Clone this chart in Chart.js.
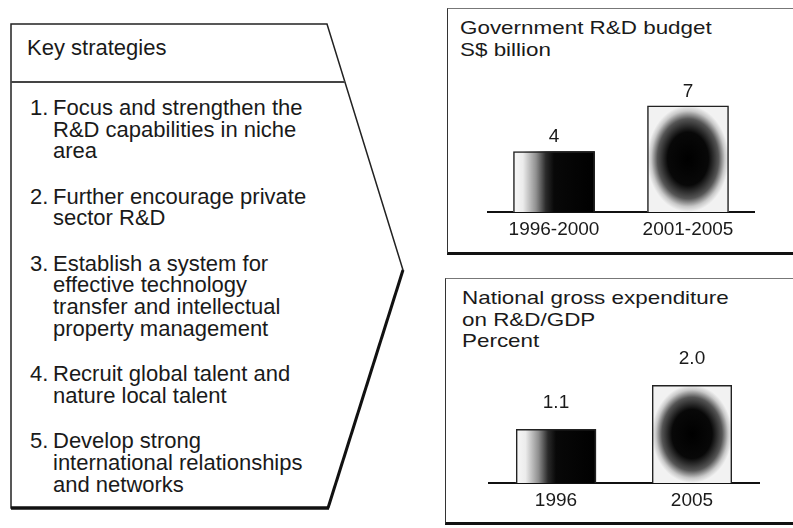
<!DOCTYPE html>
<html>
<head>
<meta charset="utf-8">
<title>Key strategies and R&amp;D spending</title>
<script src="https://cdn.jsdelivr.net/npm/chart.js@4/dist/chart.umd.min.js"></script>
<style>
    html, body {
        margin: 0;
        padding: 0;
        background: #ffffff;
    }
    body {
        position: relative;
        width: 793px;
        height: 528px;
        overflow: hidden;
        font-family: "Liberation Sans", Arial, sans-serif;
        color: #1a1a1a;
    }
    #frame {
        position: absolute;
        left: 0;
        top: 0;
    }
    .strategy-head {
        position: absolute;
        left: 27px;
        top: 37px;
        font-size: 22px;
        line-height: 21.7px;
        white-space: nowrap;
    }
    #strategyList {
        position: absolute;
        left: 30px;
        top: 97px;
        font-size: 22px;
        line-height: 21.7px;
        white-space: nowrap;
    }
    .item {
        display: flex;
        margin-bottom: 23.6px;
    }
    .item .num {
        width: 23px;
    }
    .panel {
        position: absolute;
        width: 380px;
        height: 247px;
        border-top: 1px solid #777;
        border-left: 1.5px solid #333;
        border-bottom: 3px solid #111;
        box-sizing: border-box;
    }
    .panel-title {
        position: absolute;
        font-size: 19px;
        line-height: 21.7px;
        white-space: nowrap;
        transform: scaleX(1.18);
        transform-origin: left top;
    }
    canvas {
        position: absolute;
    }
</style>
</head>
<body>

<svg id="frame" width="793" height="528">
    <polygon points="11,24 327,24 403,270 328,508 11,508" fill="none" stroke="#222" stroke-width="1.5"/>
    <line x1="403" y1="270" x2="328" y2="508" stroke="#111" stroke-width="3"/>
    <line x1="11" y1="508" x2="329" y2="508" stroke="#111" stroke-width="3.5"/>
    <line x1="11" y1="82" x2="345" y2="82" stroke="#444" stroke-width="2"/>
</svg>

<div class="strategy-head">Key strategies</div>
<div id="strategyList"></div>

<div class="panel" style="left:447px; top:8px;"></div>
<div class="panel-title" id="budgetTitle" style="left:460px; top:17px;"></div>
<canvas id="budgetChart" width="268" height="195" style="left:487px; top:60px; width:268px; height:195px;"></canvas>

<div class="panel" style="left:445px; top:278px;"></div>
<div class="panel-title" id="gerdTitle" style="left:462px; top:287px;"></div>
<canvas id="gerdChart" width="272" height="189" style="left:488px; top:336px; width:272px; height:189px;"></canvas>

<script>
// ======================== Data ========================

const strategies = [
    ['Focus and strengthen the', 'R&D capabilities in niche', 'area'],
    ['Further encourage private', 'sector R&D'],
    ['Establish a system for', 'effective technology', 'transfer and intellectual', 'property management'],
    ['Recruit global talent and', 'nature local talent'],
    ['Develop strong', 'international relationships', 'and networks']
];

const budgetTitle = ['Government R&D budget', 'S$ billion'];
const budgetYears = ['1996-2000', '2001-2005'];
const budgetValues = [4, 7];

const gerdTitle = ['National gross expenditure', 'on R&D/GDP', 'Percent'];
const gerdYears = ['1996', '2005'];
const gerdValues = [1.1, 2.0];

// ======================== Text blocks ========================

function fillLines(el, lines) {
    lines.forEach((line, i) => {
        if (i > 0) el.appendChild(document.createElement('br'));
        el.appendChild(document.createTextNode(line));
    });
}

function buildStrategyList() {
    const list = document.getElementById('strategyList');
    strategies.forEach((lines, i) => {
        const item = document.createElement('div');
        item.className = 'item';
        const num = document.createElement('span');
        num.className = 'num';
        num.textContent = (i + 1) + '.';
        const body = document.createElement('span');
        fillLines(body, lines);
        item.appendChild(num);
        item.appendChild(body);
        list.appendChild(item);
    });
}

// ======================== Bar shading plugin ========================

// first bar: fade from white to black, second bar: dark oval in the middle
const shadedBars = {
    id: 'shadedBars',
    beforeDatasetsDraw(chart) {
        const ctx = chart.ctx;
        chart.getDatasetMeta(0).data.forEach((bar, i) => {
            const { x, y, base, width } = bar.getProps(['x', 'y', 'base', 'width'], true);
            const left = x - width / 2;
            const h = base - y;
            ctx.save();
            if (i === 0) {
                const g = ctx.createLinearGradient(left, 0, left + width, 0);
                g.addColorStop(0, '#f8f8f8');
                g.addColorStop(0.12, '#ececec');
                g.addColorStop(0.28, '#909090');
                g.addColorStop(0.4, '#2a2a2a');
                g.addColorStop(0.5, '#080808');
                g.addColorStop(1, '#000000');
                ctx.fillStyle = g;
                ctx.fillRect(left, y, width, h);
            } else {
                ctx.beginPath();
                ctx.rect(left, y, width, h);
                ctx.clip();
                ctx.translate(x, y + h / 2);
                ctx.scale(1, h / width);
                const g = ctx.createRadialGradient(0, 0, 0, 0, 0, width * 0.5);
                g.addColorStop(0, '#000000');
                g.addColorStop(0.5, '#080808');
                g.addColorStop(0.75, '#555555');
                g.addColorStop(0.9, '#c8c8c8');
                g.addColorStop(1, '#f2f2f2');
                ctx.fillStyle = g;
                ctx.fillRect(-width / 2, -width / 2, width, width);
            }
            ctx.restore();
        });
    },
    afterDatasetsDraw(chart, args, opts) {
        const ctx = chart.ctx;
        const values = chart.data.datasets[0].data;
        ctx.save();
        ctx.font = '19px "Liberation Sans", Arial, sans-serif';
        ctx.fillStyle = '#1a1a1a';
        ctx.textAlign = 'center';
        ctx.textBaseline = 'middle';
        chart.getDatasetMeta(0).data.forEach((bar, i) => {
            const { x, y } = bar.getProps(['x', 'y'], true);
            ctx.fillText(values[i].toFixed(opts.decimals), x, y - opts.gap);
        });
        ctx.restore();
    }
};

// ======================== Charts ========================

Chart.defaults.font.family = '"Liberation Sans", Arial, sans-serif';
Chart.defaults.color = '#1a1a1a';

function createBarChart(canvasId, labels, values, yMax, barPct, padBottom, labelOpts) {
    const ctx = document.getElementById(canvasId).getContext('2d');

    return new Chart(ctx, {
        type: 'bar',
        data: {
            labels: labels,
            datasets: [{
                data: values,
                backgroundColor: 'rgba(0, 0, 0, 0)',
                borderColor: '#222222',
                borderWidth: 1.5,
                categoryPercentage: 1,
                barPercentage: barPct
            }]
        },
        options: {
            responsive: false,
            animation: false,
            layout: {
                padding: { top: 0, left: 0, right: 0, bottom: padBottom }
            },
            scales: {
                x: {
                    grid: { display: false, drawTicks: false },
                    border: { display: true, color: '#111111', width: 2 },
                    ticks: {
                        padding: 6,
                        font: { size: 19 },
                        color: '#1a1a1a'
                    }
                },
                y: {
                    display: false,
                    min: 0,
                    max: yMax
                }
            },
            plugins: {
                legend: { display: false },
                tooltip: { enabled: false },
                shadedBars: labelOpts
            }
        },
        plugins: [shadedBars]
    });
}

document.addEventListener('DOMContentLoaded', () => {
    buildStrategyList();
    fillLines(document.getElementById('budgetTitle'), budgetTitle);
    fillLines(document.getElementById('gerdTitle'), gerdTitle);

    createBarChart('budgetChart', budgetYears, budgetValues, 10, 0.61, 8.2, { gap: 14, decimals: 0 });
    createBarChart('gerdChart', gerdYears, gerdValues, 3, 0.59, 7.2, { gap: 26.5, decimals: 1 });
});
</script>
</body>
</html>
